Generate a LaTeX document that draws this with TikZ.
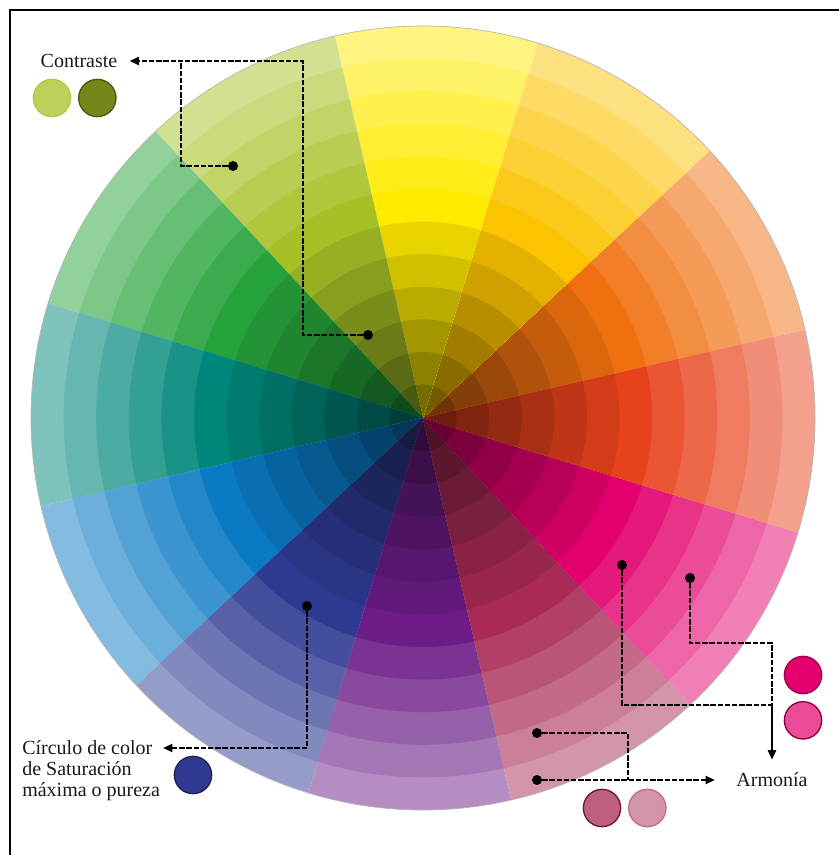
\documentclass[tikz,border=0pt]{standalone}
\usepackage{fontspec}
\setmainfont{Liberation Serif}
\usetikzlibrary{arrows.meta,positioning,calc}
% hues of the wheel, mid ring
\definecolor{hueorange}{HTML}{F0700F}
\definecolor{huegold}{HTML}{FBC300}
\definecolor{hueyellow}{HTML}{FFEA00}
\definecolor{huelime}{HTML}{A6C126}
\definecolor{huegreen}{HTML}{26A23A}
\definecolor{hueteal}{HTML}{00877B}
\definecolor{hueblue}{HTML}{0A7AC4}
\definecolor{hueindigo}{HTML}{2E3A92}
\definecolor{huepurple}{HTML}{6B1C86}
\definecolor{huewine}{HTML}{A82A55}
\definecolor{huemagenta}{HTML}{E2006C}
\definecolor{huered}{HTML}{E8421C}
\tikzset{link/.style={line width=1.5pt,dash pattern=on 4pt off 1.4pt},
  tip/.style={-{Triangle[length=7pt,width=6pt]}},
  dot/.style={circle,fill=black,inner sep=0pt,minimum size=7.5pt},
  swatch/.style={circle,inner sep=0pt,minimum size=28pt,line width=1pt},
  lbl/.style={inner sep=0pt,align=left,text=black!90,
    font=\fontsize{15}{15.8}\selectfont}}
\begin{document}
\begin{tikzpicture}[x=0.75pt,y=-0.75pt]
\useasboundingbox (0,0) rectangle (839,855);
\draw[line width=1.5pt] (10,855) -- (10,10) -- (839,10);
% wheel: 12 hues, 12 rings, pale outside, dark inside
\begin{scope}[shift={(423,418)}]
\foreach \hue [count=\i from 0] in {hueorange,huegold,hueyellow,huelime,huegreen,hueteal,
  hueblue,hueindigo,huepurple,huewine,huemagenta,huered}{
  \pgfmathsetmacro\a{-43-30*\i}
  \foreach \k in {0,...,11}{
    \pgfmathsetmacro\rr{392-32.6*\k}
    \ifnum\k<6
      \pgfmathtruncatemacro\p{100-10*(5-\k)}\def\mixc{white}
    \else
      \pgfmathtruncatemacro\p{100-9*(\k-5)}\def\mixc{black}
    \fi
    \fill[fill=\hue!\p!\mixc] (0,0) -- (\a:\rr) arc[start angle=\a,delta angle=30,radius=\rr] -- cycle;
  }
}
\draw[black!30,line width=0.5pt] (0,0) circle[radius=392];
\end{scope}
% contraste
\node[lbl] (contraste) at (79,61) {Contraste};
\node[swatch,fill=huelime!75!white,draw=huelime!85!white] (cs1) at (52,98) {};
\node[swatch,fill=huelime!70!black,draw=huelime!45!black,right=5pt of cs1] (cs2) {};
\node[dot] (c1) at (368,335) {};
\node[dot] (c2) at (233,166) {};
\draw[link,tip,shorten >=9pt] (c1) -- ++(-65,0) |- (contraste);
\draw[link] (c2) -- ++(-52,0) -- ++(0,-104);
% saturacion
\node[lbl,anchor=west] (circulo) at (22,771) {Círculo de color\\de Saturación\\máxima o pureza};
\node[swatch,fill=hueindigo,draw=hueindigo!60!black] (ss1) at (193,775) {};
\node[dot] (s1) at (307,606) {};
\coordinate (stip) at (163,748);
\draw[link,tip] (s1) |- (stip);
% armonia
\node[lbl] (armonia) at (772,780) {Armonía};
\node[swatch,fill=huemagenta,draw=huemagenta!70!black] (as1) at (803,675) {};
\node[swatch,fill=huemagenta!70!white,draw=huemagenta!60!black,below=5pt of as1] (as2) {};
\node[swatch,fill=huewine!75!white,draw=huewine!60!black] (as3) at (602,808) {};
\node[swatch,fill=huewine!50!white,draw=huewine!70!white,right=5pt of as3] (as4) {};
\node[dot] (h1) at (622,565) {};
\node[dot] (h2) at (690,578) {};
\node[dot] (h3) at (537,733) {};
\node[dot] (h4) at (537,780) {};
\coordinate (hjoin) at (628,780);
\draw[link,tip,shorten >=10pt] (h1) -- ++(0,140) -| (armonia);
\draw[link,tip,shorten >=10pt] (h2) -- ++(0,65) -| (armonia);
\draw[link] (h3) -| (hjoin);
\draw[link,tip,shorten >=16pt] (h4) -- (armonia);
\end{tikzpicture}
\end{document}
